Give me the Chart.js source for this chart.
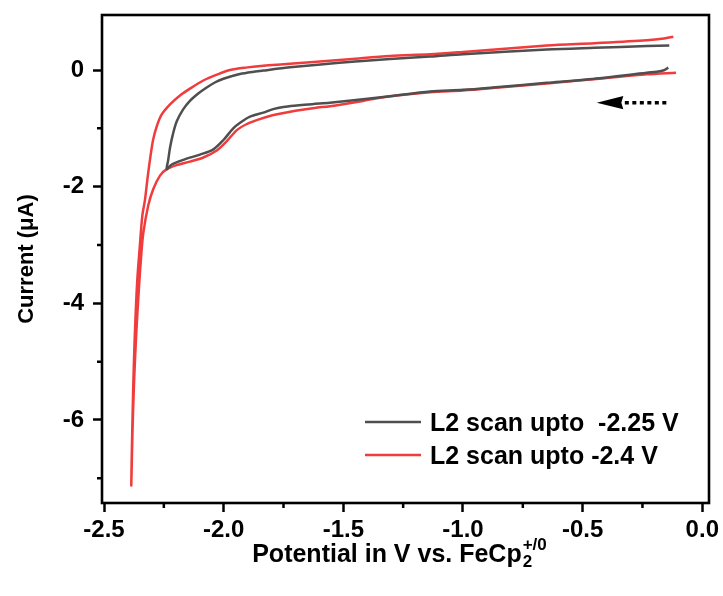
<!DOCTYPE html>
<html><head><meta charset="utf-8">
<script src="https://cdn.jsdelivr.net/npm/chart.js@4.4.1/dist/chart.umd.min.js"></script>
<style>html,body{margin:0;padding:0;background:#fff}</style>
</head><body>
<canvas id="c" width="723" height="596"></canvas>
<script>
const seriesLabels = ['L2 scan upto  -2.25 V', 'L2 scan upto -2.4 V'];
const seriesColors = ['#4F4F4F', '#F03C3C'];

// Scan up to -2.25 V (potential in V, current in µA), in scan order
const grayV = [-0.142,-0.16,-0.19,-0.232,-0.43,-0.65,-0.85,-1.0,-1.138,-1.305,-1.418,-1.556,-1.63,-1.695,-1.75,-1.793,-1.834,-1.89,-1.93,-1.96,-2.001,-2.043,-2.099,-2.169,-2.217,-2.238,
  -2.232,-2.224,-2.212,-2.196,-2.17,-2.141,-2.105,-2.071,-2.035,-2.001,-1.965,-1.932,-1.88,-1.834,-1.77,-1.70,-1.584,-1.45,-1.305,-1.138,-1.0,-0.65,-0.45,-0.232,-0.138];
const grayI = [0.04,-0.005,-0.03,-0.046,-0.14,-0.22,-0.29,-0.34,-0.37,-0.45,-0.50,-0.56,-0.585,-0.61,-0.635,-0.67,-0.73,-0.80,-0.90,-1.00,-1.20,-1.36,-1.45,-1.54,-1.62,-1.70,
  -1.55,-1.33,-1.10,-0.88,-0.68,-0.53,-0.40,-0.30,-0.21,-0.15,-0.105,-0.07,-0.035,-0.01,0.025,0.055,0.10,0.145,0.19,0.23,0.27,0.35,0.38,0.41,0.42];

// Scan up to -2.4 V
const redV = [-0.110,-0.232,-0.43,-0.65,-0.85,-1.0,-1.138,-1.305,-1.418,-1.556,-1.62,-1.70,-1.76,-1.80,-1.862,-1.905,-1.945,-1.987,-2.029,-2.085,-2.141,-2.196,-2.238,-2.266,-2.294,-2.315,-2.336,-2.345,-2.355,-2.365,-2.374,-2.381,-2.386,
  -2.384,-2.380,-2.375,-2.369,-2.361,-2.350,-2.340,-2.329,-2.318,-2.308,-2.295,-2.28,-2.26,-2.224,-2.18,-2.141,-2.085,-2.029,-1.973,-1.90,-1.834,-1.75,-1.584,-1.45,-1.305,-1.138,-1.0,-0.65,-0.45,-0.232,-0.16,-0.121];
const redI = [-0.046,-0.074,-0.15,-0.23,-0.30,-0.35,-0.38,-0.45,-0.53,-0.62,-0.65,-0.70,-0.745,-0.78,-0.86,-0.93,-1.03,-1.22,-1.38,-1.50,-1.57,-1.63,-1.70,-1.81,-2.04,-2.32,-2.80,-3.2,-3.8,-4.5,-5.3,-6.2,-7.12,
  -6.6,-5.8,-5.0,-4.3,-3.6,-3.0,-2.5,-2.23,-1.85,-1.54,-1.2,-0.97,-0.77,-0.59,-0.43,-0.32,-0.18,-0.08,0.0,0.045,0.075,0.10,0.15,0.195,0.24,0.27,0.31,0.42,0.46,0.51,0.54,0.57];

const xTicks = [-2.5,-2.0,-1.5,-1.0,-0.5,0.0];
const xTickLabels = ['-2.5','-2.0','-1.5','-1.0','-0.5','0.0'];
const xMinorTicks = [-2.25,-1.75,-1.25,-0.75,-0.25];
const yTicks = [0,-2,-4,-6];
const yTickLabels = ['0','-2','-4','-6'];
const yMinorTicks = [-1,-3,-5,-7];

const FONT = '"Liberation Sans", Arial, Helvetica, sans-serif';

function toPts(xs, ys){ return xs.map((x,i)=>({x:x, y:ys[i]})); }

const framePlugin = {
  id:'frame',
  afterDraw(chart){
    const {ctx, chartArea:a, scales} = chart;
    ctx.save();
    ctx.strokeStyle = '#000';
    ctx.lineWidth = 2.6;
    ctx.strokeRect(a.left, a.top, a.right-a.left, a.bottom-a.top);
    // minor ticks
    ctx.lineWidth = 2.5;
    ctx.beginPath();
    xMinorTicks.forEach(v=>{
      const px = scales.x.getPixelForValue(v);
      ctx.moveTo(px, a.bottom); ctx.lineTo(px, a.bottom+5);
    });
    yMinorTicks.forEach(v=>{
      const py = scales.y.getPixelForValue(v);
      ctx.moveTo(a.left, py); ctx.lineTo(a.left-5, py);
    });
    ctx.stroke();

    // scan direction arrow
    const tipX = scales.x.getPixelForValue(-0.441);
    const baseX = scales.x.getPixelForValue(-0.330);
    const tailX = scales.x.getPixelForValue(-0.1475);
    const ay = scales.y.getPixelForValue(-0.56);
    ctx.fillStyle = '#000';
    ctx.beginPath();
    ctx.moveTo(tipX, ay);
    ctx.lineTo(baseX, ay-6.7);
    ctx.lineTo(baseX-2, ay);
    ctx.lineTo(baseX, ay+6.7);
    ctx.closePath();
    ctx.fill();
    ctx.setLineDash([4,3.5]);
    ctx.lineWidth = 3.5;
    ctx.beginPath();
    ctx.moveTo(baseX+1.5, ay); ctx.lineTo(tailX, ay);
    ctx.stroke();
    ctx.setLineDash([]);

    // legend
    ctx.font = 'bold 25px ' + FONT;
    ctx.textAlign = 'left';
    ctx.textBaseline = 'alphabetic';
    const rows = [422, 455];
    chart.data.datasets.forEach((ds, i)=>{
      const y = rows[i];
      ctx.strokeStyle = ds.borderColor;
      ctx.lineWidth = 2.5;
      ctx.beginPath(); ctx.moveTo(365, y); ctx.lineTo(421, y); ctx.stroke();
      ctx.fillStyle = '#000';
      ctx.fillText(ds.label, 430, y + 9);
    });

    // x axis title with sub/superscript
    const main = 'Potential in V vs. FeCp';
    const sub = '2';
    const sup = '+/0';
    ctx.font = 'bold 25px ' + FONT;
    const wMain = ctx.measureText(main).width;
    ctx.font = 'bold 17px ' + FONT;
    const wSub = ctx.measureText(sub).width;
    const wSup = ctx.measureText(sup).width;
    const total = wMain + Math.max(wSub, wSup);
    const cx = 399;
    let x0 = cx - total/2;
    const base = 562;
    ctx.fillStyle = '#000';
    ctx.font = 'bold 25px ' + FONT;
    ctx.fillText(main, x0, base);
    ctx.font = 'bold 17px ' + FONT;
    ctx.fillText(sub, x0 + wMain + 1, base + 5);
    ctx.fillText(sup, x0 + wMain + 1, base - 12);
    ctx.restore();
  }
};

new Chart(document.getElementById('c'), {
  type:'scatter',
  data:{
    datasets:[
      {label:seriesLabels[0], data:toPts(grayV, grayI), showLine:true, borderColor:seriesColors[0], borderWidth:2.5, pointRadius:0, tension:0.3, fill:false},
      {label:seriesLabels[1], data:toPts(redV, redI), showLine:true, borderColor:seriesColors[1], borderWidth:2.5, pointRadius:0, tension:0.3, fill:false}
    ]
  },
  options:{
    responsive:false, animation:false, devicePixelRatio:1,
    layout:{padding:{top:15, right:14, left:0, bottom:0}},
    plugins:{legend:{display:false}, tooltip:{enabled:false}},
    scales:{
      x:{
        type:'linear', min:-2.5084, max:0.028,
        afterBuildTicks:s=>{ s.ticks = xTicks.map(v=>({value:v})); },
        afterFit:s=>{ s.height = 93; s.paddingLeft = 0; s.paddingRight = 0; },
        grid:{drawOnChartArea:false, drawTicks:true, tickLength:9, tickWidth:2.5, tickColor:'#000'},
        border:{display:false},
        ticks:{color:'#000', font:{family:FONT, size:24, weight:'bold'}, padding:4, maxRotation:0, autoSkip:false,
          callback:(v,i)=>xTickLabels[i]}
      },
      y:{
        type:'linear', min:-7.423, max:0.943,
        afterBuildTicks:s=>{ s.ticks = yTicks.map(v=>({value:v})); },
        afterFit:s=>{ s.width = 102; s.paddingTop = 0; s.paddingBottom = 0; },
        grid:{drawOnChartArea:false, drawTicks:true, tickLength:9, tickWidth:2.5, tickColor:'#000'},
        border:{display:false},
        ticks:{color:'#000', font:{family:FONT, size:24, weight:'bold'}, padding:9, autoSkip:false,
          callback:(v,i)=>yTickLabels[i]},
        title:{display:true, text:'Current (μA)', color:'#000', font:{family:FONT, size:22, weight:'bold'}, padding:{top:14, bottom:0}}
      }
    }
  },
  plugins:[framePlugin]
});
</script>
</body></html>
